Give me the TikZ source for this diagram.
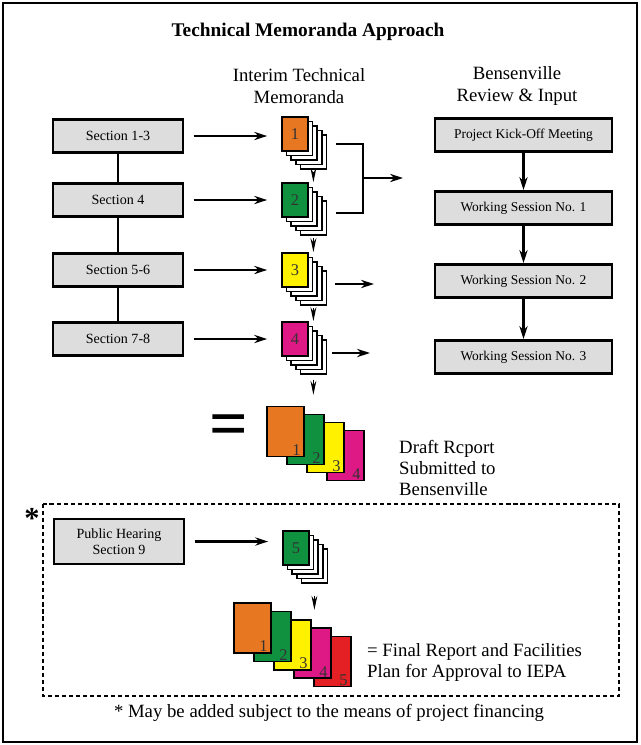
\documentclass[tikz,border=0pt]{standalone}
\usepackage{fontspec}
\setmainfont{Liberation Serif}
\usetikzlibrary{arrows.meta,positioning,calc}
\definecolor{memoorange}{RGB}{232,119,34}
\definecolor{memogreen}{RGB}{16,145,64}
\definecolor{memoyellow}{RGB}{255,241,0}
\definecolor{memomagenta}{RGB}{222,24,132}
\definecolor{memored}{RGB}{228,32,36}
\definecolor{boxgray}{RGB}{221,221,221}

\begin{document}
\begin{tikzpicture}[x=0.03cm,y=-0.03cm,>={Stealth[length=11pt,width=7pt]},
  secbox/.style={draw,line width=2.2pt,fill=boxgray,minimum width=3.9cm,minimum height=1cm,font=\fontsize{12}{13.5}\selectfont,align=center},
  reviewbox/.style={secbox,minimum width=5.31cm,font=\fontsize{11.5}{13}\selectfont},
  frontpage/.style={draw,line width=1.4pt,minimum width=0.78cm,minimum height=1.02cm,inner sep=0pt,font=\fontsize{14}{14}\selectfont\color{black!80}},
  backpage/.style={frontpage,fill=white},
  bigpage/.style={draw,line width=1.4pt,minimum width=1.11cm,minimum height=1.5cm,inner sep=0pt},
  pagenum/.style={anchor=south east,inner xsep=3.5pt,inner ysep=1.5pt,font=\fontsize{14}{14}\selectfont\color{black!80}},
  flow/.style={->,line width=2pt},
  tick/.style={-{Stealth[length=12pt,width=5pt]},line width=1pt},
  head/.style={font=\fontsize{16}{19}\selectfont,align=center},
  body/.style={font=\fontsize{16}{18}\selectfont,align=left,inner sep=0pt,anchor=north west}]
\useasboundingbox (0,0) rectangle (641,745);
\draw[line width=1.8pt] (3,3) rectangle (637,742);

\node[font=\fontsize{16.5}{20}\selectfont\bfseries] (title) at (308,32) {Technical Memoranda Approach};
\node[head] (itm) at (299,86) {Interim Technical\\Memoranda};
\node[head] (bri) at (517,86) {Bensenville\\Review \& Input};

\node[secbox] (s13) at (118,136) {Section 1-3};
\node[secbox] (s4) at (118,200) {Section 4};
\node[secbox] (s56) at (118,270) {Section 5-6};
\node[secbox] (s78) at (118,339) {Section 7-8};
\draw[line width=2pt] (s13) -- (s4) -- (s56) -- (s78);

\node[reviewbox] (kick) at (523.5,135) {Project Kick-Off Meeting};
\node[reviewbox] (ws1) at (523.5,208) {Working Session No. 1};
\node[reviewbox] (ws2) at (523.5,281) {Working Session No. 2};
\node[reviewbox] (ws3) at (523.5,357) {Working Session No. 3};
\draw[flow] (kick) -- (ws1); \draw[flow] (ws1) -- (ws2); \draw[flow] (ws2) -- (ws3);

\foreach \s/\y/\c in {1/134/memoorange,2/200/memogreen,3/270/memoyellow,4/339/memomagenta} {
  \foreach \k in {4,3,2,1} { \node[backpage] (m\s-\k) at ({295+4.6*\k},{\y+4.5*\k}) {}; }
  \node[frontpage,fill=\c] (m\s) at (295,\y) {\s};
}
\foreach \a/\b in {s13/m1,s4/m2,s56/m3,s78/m4} { \draw[flow,shorten <=8pt,shorten >=12pt] (\a.east) -- (\a.east -| \b.west); }
\foreach \a/\b in {1/2,2/3,3/4} { \draw[tick] ([yshift=-2pt]m\a-4.south) -- (m\a-4.south |- m\b.north); }

\coordinate (br1) at (336,144); \coordinate (br2) at (336,213);
\coordinate (brmid) at (363,178); \coordinate (brout) at (403,178);
\draw[line width=2pt] (br1) -| (brmid) |- (br2);
\draw[flow] (brmid) -- (brout);
\coordinate (o3a) at (335,284); \coordinate (o3b) at (374,284);
\coordinate (o4a) at (332,353); \coordinate (o4b) at (370,353);
\draw[flow] (o3a) -- (o3b); \draw[flow] (o4a) -- (o4b);

\path (m4-4.south) ++(0,20) coordinate (draftin);
\draw[tick] ([yshift=-4pt]m4-4.south) -- (draftin);
\node[font=\fontsize{58}{58}\selectfont\bfseries] (eq) at (228.5,431) {=};
\foreach \n/\c in {4/memomagenta,3/memoyellow,2/memogreen,1/memoorange} {
  \node[bigpage,fill=\c,label={[pagenum]south east:\n}] (d\n) at ({285.5+20*(\n-1)},{431.5+8*(\n-1)}) {};
}
\node[body] (draft) at (399,440) {Draft Rcport\\Submitted to\\Bensenville};

\node[font=\fontsize{26}{26}\selectfont\bfseries] (star) at (32,518) {*};
\draw[line width=2pt,dash pattern=on 3.5pt off 2.5pt] (43,504) rectangle (619,696);
\node[secbox,minimum height=1.35cm] (ph) at (119,541.5) {Public Hearing\\Section 9};
\foreach \k in {4,3,2,1} { \node[backpage] (m5-\k) at ({296+4.6*\k},{548+4.5*\k}) {}; }
\node[frontpage,fill=memogreen] (m5) at (296,548) {5};
\draw[flow,shorten <=8pt,shorten >=12pt] (ph.east) -- (ph.east -| m5.west);
\path (m5-4.south) ++(0,26) coordinate (finalin);
\draw[tick] ([yshift=-10pt]m5-4.south) -- (finalin);
\foreach \n/\c in {5/memored,4/memomagenta,3/memoyellow,2/memogreen,1/memoorange} {
  \node[bigpage,fill=\c,label={[pagenum]south east:\n}] (f\n) at ({252.5+20*(\n-1)},{628+8.4*(\n-1)}) {};
}
\node[body] (final) at (367,643) {= Final Report and Facilities\\Plan for Approval to IEPA};
\node[font=\fontsize{16}{18}\selectfont] (note) at (329,713) {* May be added subject to the means of project financing};
\end{tikzpicture}
\end{document}
